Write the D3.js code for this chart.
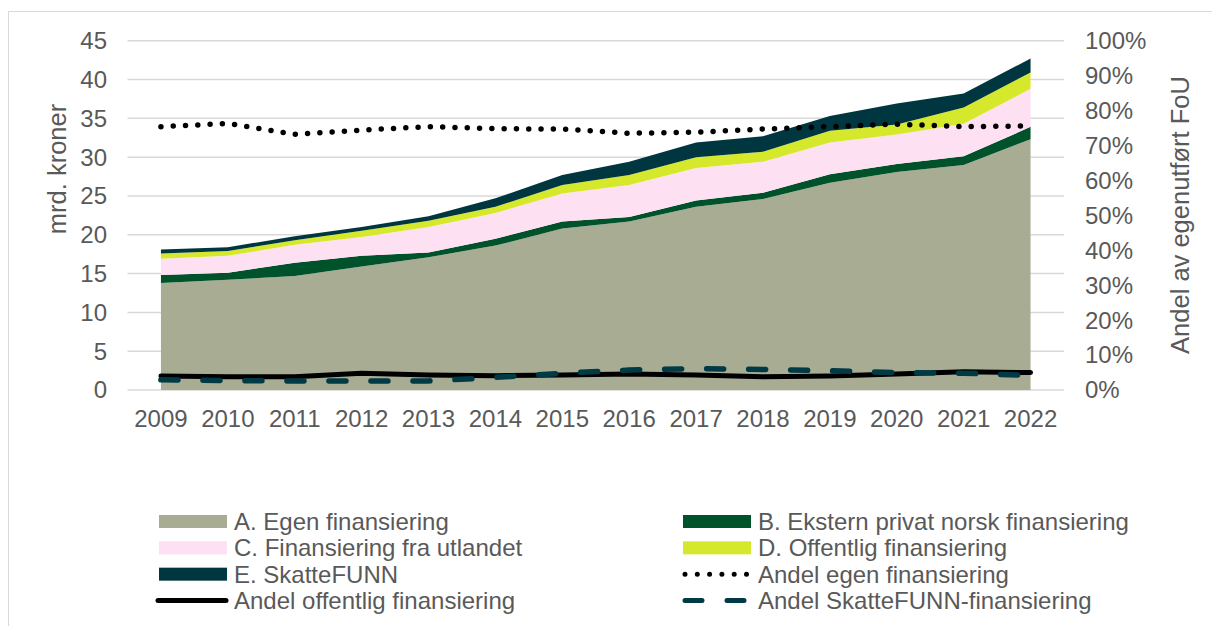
<!DOCTYPE html>
<html>
<head>
<meta charset="utf-8">
<script src="https://cdn.jsdelivr.net/npm/d3@7"></script>
<style>
  body { margin: 0; background: #fff; }
  svg { display: block; font-family: "Liberation Sans", Arial, sans-serif; }
  .tick-label { fill: #595959; font-size: 24px; }
  .title { fill: #595959; font-size: 25.5px; }
  .legend-text { fill: #595959; font-size: 24px; }
</style>
</head>
<body>
<svg id="chart" width="1212" height="626"></svg>
<script>
// values (mrd. kroner and shares)
const years = [2009, 2010, 2011, 2012, 2013, 2014, 2015, 2016, 2017, 2018, 2019, 2020, 2021, 2022];
const egen       = [13.8, 14.2, 14.7, 15.9, 17.1, 18.6, 20.8, 21.7, 23.6, 24.6, 26.7, 28.1, 29.0, 32.3];
const ekstern    = [1.0, 0.9, 1.7, 1.4, 0.6, 0.9, 0.9, 0.6, 0.8, 0.8, 1.1, 1.0, 1.1, 1.6];
const utland     = [2.1, 2.2, 2.3, 2.4, 3.3, 3.3, 3.6, 4.1, 4.2, 4.0, 4.1, 3.8, 4.2, 4.9];
const offentlig  = [0.7, 0.6, 0.6, 0.8, 0.8, 0.8, 1.1, 1.3, 1.4, 1.3, 1.5, 1.3, 2.1, 2.1];
const skattefunn = [0.5, 0.5, 0.5, 0.5, 0.6, 1.1, 1.3, 1.7, 1.9, 2.0, 1.9, 2.7, 1.8, 1.8];

const andelEgen       = [0.754, 0.763, 0.732, 0.744, 0.754, 0.748, 0.747, 0.735, 0.738, 0.747, 0.754, 0.761, 0.754, 0.756];
const andelOffentlig  = [0.040, 0.038, 0.038, 0.048, 0.043, 0.041, 0.043, 0.046, 0.043, 0.038, 0.040, 0.046, 0.052, 0.050];
const andelSkattefunn = [0.029, 0.027, 0.026, 0.026, 0.026, 0.036, 0.048, 0.057, 0.061, 0.059, 0.055, 0.050, 0.048, 0.042];

const leftTicks  = [0, 5, 10, 15, 20, 25, 30, 35, 40, 45];
const rightTicks = [0, 0.1, 0.2, 0.3, 0.4, 0.5, 0.6, 0.7, 0.8, 0.9, 1.0];

const seriesKeys   = ["A", "B", "C", "D", "E"];
const seriesNames  = {
  A: "A. Egen finansiering",
  B: "B. Ekstern privat norsk finansiering",
  C: "C. Finansiering fra utlandet",
  D: "D. Offentlig finansiering",
  E: "E. SkatteFUNN"
};
const colors = { A: "#a8ac93", B: "#00522a", C: "#fde0f2", D: "#d6e82c", E: "#00363f" };

const svg = d3.select("#chart");

// outer frame
svg.append("rect")
  .attr("x", 8.5).attr("y", 11.5)
  .attr("width", 1220).attr("height", 640)
  .attr("fill", "none").attr("stroke", "#d9d9d9").attr("stroke-width", 1);

const x = d3.scalePoint().domain(years).range([127.5, 1064]).padding(0.5);
const y = d3.scaleLinear().domain([0, 45]).range([390, 40.7]);
const yPct = d3.scaleLinear().domain([0, 1]).range([390, 40.7]);

// gridlines
svg.append("g")
  .selectAll("line")
  .data(leftTicks)
  .enter()
  .append("line")
    .attr("x1", 127.5).attr("x2", 1064)
    .attr("y1", d => y(d)).attr("y2", d => y(d))
    .attr("stroke", "#d9d9d9").attr("stroke-width", 1.5);

// stacked areas
const table = years.map((yr, i) => ({
  year: yr, A: egen[i], B: ekstern[i], C: utland[i], D: offentlig[i], E: skattefunn[i]
}));
const stacked = d3.stack().keys(seriesKeys)(table);

const area = d3.area()
  .x(d => x(d.data.year))
  .y0(d => y(d[0]))
  .y1(d => y(d[1]));

svg.append("g")
  .selectAll("path")
  .data(stacked)
  .enter()
  .append("path")
    .attr("d", area)
    .attr("fill", d => colors[d.key]);

// share lines (right axis)
const pctLine = d3.line()
  .x((d, i) => x(years[i]))
  .y(d => yPct(d));

svg.append("path")
  .attr("d", pctLine(andelOffentlig))
  .attr("fill", "none").attr("stroke", "#000")
  .attr("stroke-width", 5).attr("stroke-linecap", "round").attr("stroke-linejoin", "round");

svg.append("path")
  .attr("d", pctLine(andelSkattefunn))
  .attr("fill", "none").attr("stroke", "#003a45")
  .attr("stroke-width", 5.5).attr("stroke-linecap", "round")
  .attr("stroke-dasharray", "17 25");

svg.append("path")
  .attr("d", pctLine(andelEgen))
  .attr("fill", "none").attr("stroke", "#000")
  .attr("stroke-width", 5.5).attr("stroke-linecap", "round")
  .attr("stroke-dasharray", "0 12.3");

// left axis labels
svg.append("g")
  .selectAll("text")
  .data(leftTicks)
  .enter()
  .append("text")
    .attr("class", "tick-label")
    .attr("x", 107)
    .attr("y", d => y(d))
    .attr("dy", "0.35em")
    .attr("text-anchor", "end")
    .text(d => d);

// right axis labels
svg.append("g")
  .selectAll("text")
  .data(rightTicks)
  .enter()
  .append("text")
    .attr("class", "tick-label")
    .attr("x", 1085)
    .attr("y", d => yPct(d))
    .attr("dy", "0.35em")
    .text(d => Math.round(d * 100) + "%");

// x labels
svg.append("g")
  .selectAll("text")
  .data(years)
  .enter()
  .append("text")
    .attr("class", "tick-label")
    .attr("x", d => x(d))
    .attr("y", 427)
    .attr("text-anchor", "middle")
    .text(d => d);

// axis titles
svg.append("text")
  .attr("class", "title")
  .attr("transform", "translate(66,169) rotate(-90)")
  .attr("text-anchor", "middle")
  .text("mrd. kroner");

svg.append("text")
  .attr("class", "title")
  .attr("transform", "translate(1189,215) rotate(-90)")
  .attr("text-anchor", "middle")
  .text("Andel av egenutført FoU");

// legend
const legendItems = [
  { label: seriesNames.A, kind: "box", color: colors.A, col: 0, row: 0 },
  { label: seriesNames.B, kind: "box", color: colors.B, col: 1, row: 0 },
  { label: seriesNames.C, kind: "box", color: colors.C, col: 0, row: 1 },
  { label: seriesNames.D, kind: "box", color: colors.D, col: 1, row: 1 },
  { label: seriesNames.E, kind: "box", color: colors.E, col: 0, row: 2 },
  { label: "Andel egen finansiering", kind: "dot", color: "#000", col: 1, row: 2 },
  { label: "Andel offentlig finansiering", kind: "solid", color: "#000", col: 0, row: 3 },
  { label: "Andel SkatteFUNN-finansiering", kind: "dash", color: "#003a45", col: 1, row: 3 }
];
const colX = [159, 683];
const rowY = d3.scaleLinear().domain([0, 3]).range([521.5, 600.5]);

const legend = svg.append("g")
  .selectAll("g")
  .data(legendItems)
  .enter()
  .append("g")
    .attr("transform", d => `translate(${colX[d.col]},${rowY(d.row)})`);

legend.filter(d => d.kind === "box")
  .append("rect")
    .attr("x", 0).attr("y", -6.5)
    .attr("width", 68).attr("height", 13)
    .attr("fill", d => d.color);

legend.filter(d => d.kind !== "box")
  .append("line")
    .attr("x1", d => d.kind === "solid" ? -1 : 2)
    .attr("x2", 67)
    .attr("y1", 0).attr("y2", 0)
    .attr("stroke", d => d.color)
    .attr("stroke-width", 5)
    .attr("stroke-linecap", "round")
    .attr("stroke-dasharray", d => d.kind === "dot" ? "0 12.3" : d.kind === "dash" ? "17 25" : null);

legend.append("text")
  .attr("class", "legend-text")
  .attr("x", 75)
  .attr("y", 0)
  .attr("dy", "0.36em")
  .text(d => d.label);
</script>
</body>
</html>
